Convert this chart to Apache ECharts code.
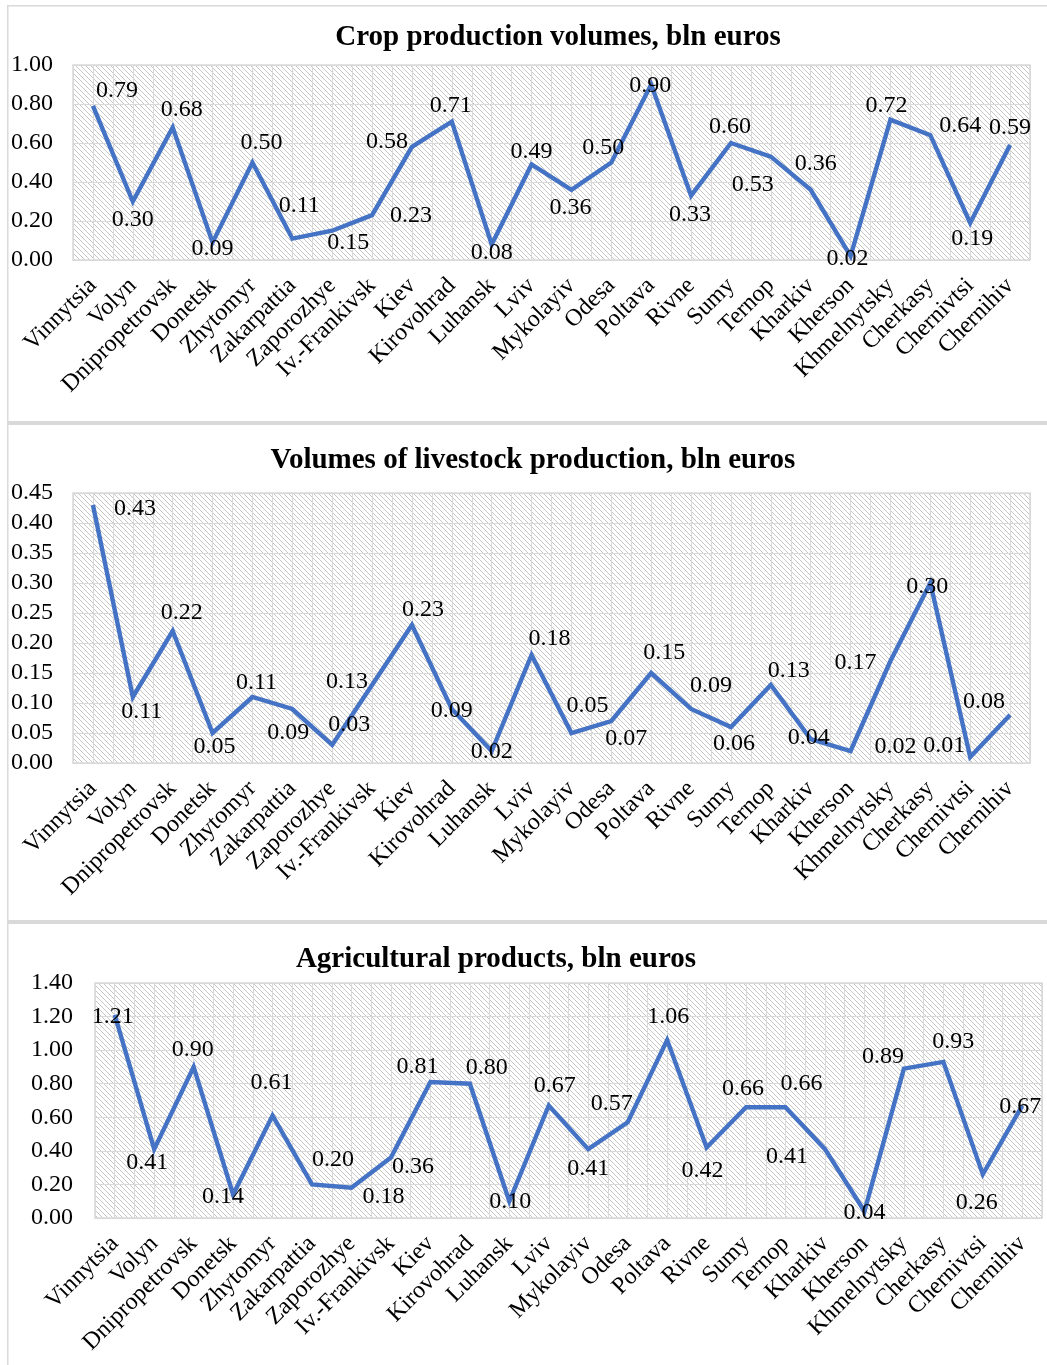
<!DOCTYPE html>
<html>
<head>
<meta charset="utf-8">
<title>Regional agricultural production, bln euros</title>
<script src="https://cdn.jsdelivr.net/npm/echarts@6/dist/echarts.min.js"></script>
<style>
  html, body { margin: 0; padding: 0; background: #ffffff; }
  #chart { width: 1047px; height: 1365px; }
</style>
</head>
<body>
<div id="chart"></div>
<script>
// Regions (oblasts) in the order they are plotted
const regions = [
  'Vinnytsia', 'Volyn', 'Dnipropetrovsk', 'Donetsk', 'Zhytomyr', 'Zakarpattia',
  'Zaporozhye', 'Iv.-Frankivsk', 'Kiev', 'Kirovohrad', 'Luhansk', 'Lviv',
  'Mykolayiv', 'Odesa', 'Poltava', 'Rivne', 'Sumy', 'Ternop', 'Kharkiv',
  'Kherson', 'Khmelnytsky', 'Cherkasy', 'Chernivtsi', 'Chernihiv'
];

// Crop production volumes, bln euros
const cropValues = [
  0.79, 0.30, 0.68, 0.09, 0.50, 0.11, 0.15, 0.23, 0.58, 0.71, 0.08, 0.49,
  0.36, 0.50, 0.90, 0.33, 0.60, 0.53, 0.36, 0.02, 0.72, 0.64, 0.19, 0.59
];

// Volumes of livestock production, bln euros
const livestockValues = [
  0.43, 0.11, 0.22, 0.05, 0.11, 0.09, 0.03, 0.13, 0.23, 0.09, 0.02, 0.18,
  0.05, 0.07, 0.15, 0.09, 0.06, 0.13, 0.04, 0.02, 0.17, 0.30, 0.01, 0.08
];

// Agricultural products, bln euros
const agriValues = [
  1.21, 0.41, 0.90, 0.14, 0.61, 0.20, 0.18, 0.36, 0.81, 0.80, 0.10, 0.67,
  0.41, 0.57, 1.06, 0.42, 0.66, 0.66, 0.41, 0.04, 0.89, 0.93, 0.26, 0.67
];

// Value-label placement: shift of each label's centre from its point, px
const cropLabelShift = [
  [24, -15], [0, 18], [9, -18], [0, 6], [9, -20], [7, -33], [16, 12], [39, 1],
  [-25, -5], [-1, -16], [0, 8], [0, -13], [-1, 18], [-8, -15], [-1, 1], [-1, 19],
  [-1, -16], [-18, 28], [5, -26], [-3, 3], [-4, -14], [30, -9], [2, 16], [0, -17]
];
const livestockLabelShift = [
  [42, 4], [9, 15], [9, -18], [2, 14], [4, -14], [-4, 24], [17, -20], [-25, -3],
  [11, -15], [0, 2], [0, 1], [18, -16], [16, -27], [15, 18], [13, -20], [20, -23],
  [3, 17], [18, -14], [-2, -1], [45, -4], [-35, 2], [-3, 4], [-26, -11], [-26, -13]
];
const agriLabelShift = [
  [-2, 2], [-7, 14], [-1, -17], [-10, 2], [-1, -33], [21, -25], [32, 9], [22, 9],
  [-13, -15], [17, -16], [1, 0], [6, -20], [0, 20], [-16, -19], [1, -23], [-4, 23],
  [-3, -19], [16, -24], [-38, 8], [0, 1], [-21, -12], [10, -20], [-6, 28], [-2, 1]
];

const FONT = "'Liberation Serif', 'Times New Roman', serif";
const LINE_COLOR = '#4472C4';
const GRID_COLOR = '#d9d9d9';

// Diagonal hatching used as the plot-area fill
function hatchPattern() {
  const s = 5;
  const c = document.createElement('canvas');
  c.width = s; c.height = s;
  const g = c.getContext('2d');
  g.fillStyle = '#ffffff';
  g.fillRect(0, 0, s, s);
  g.strokeStyle = '#c6c6c6';
  g.lineWidth = 1;
  g.beginPath();
  g.moveTo(-1, -1); g.lineTo(s + 1, s + 1);
  g.moveTo(-1, s - 1); g.lineTo(1, s + 1);
  g.moveTo(s - 1, -1); g.lineTo(s + 1, 1);
  g.stroke();
  return { image: c, repeat: 'repeat' };
}
const hatch = hatchPattern();

const panels = [
  { title: 'Crop production volumes, bln euros', titleX: 558, titleY: 38,
    grid: { left: 73, top: 65, width: 957, height: 195 },
    max: 1.0, interval: 0.2, values: cropValues, shift: cropLabelShift },
  { title: 'Volumes of livestock production, bln euros', titleX: 533, titleY: 461,
    grid: { left: 73, top: 493, width: 957, height: 270 },
    max: 0.45, interval: 0.05, values: livestockValues, shift: livestockLabelShift },
  { title: 'Agricultural products, bln euros', titleX: 496, titleY: 960,
    grid: { left: 95, top: 983, width: 947, height: 235 },
    max: 1.4, interval: 0.2, values: agriValues, shift: agriLabelShift }
];

const grids = [], xAxes = [], yAxes = [], series = [], titles = [];

panels.forEach((p, k) => {
  grids.push(Object.assign({
    show: true,
    backgroundColor: hatch,
    borderColor: GRID_COLOR,
    borderWidth: 1.5,
    containLabel: false
  }, p.grid));

  // category axis carrying the region names
  xAxes.push({
    type: 'category',
    gridIndex: k,
    data: regions,
    boundaryGap: true,
    axisLine: { show: false },
    axisTick: { show: false },
    splitLine: { show: false },
    axisLabel: {
      interval: 0,
      rotate: 45,
      margin: 22,
      color: '#000',
      fontFamily: FONT,
      fontSize: 24
    }
  });
  // auxiliary axis drawing a vertical gridline every half category
  xAxes.push({
    type: 'value',
    gridIndex: k,
    position: 'top',
    min: 0,
    max: regions.length * 2,
    interval: 1,
    axisLine: { show: false },
    axisTick: { show: false },
    axisLabel: { show: false },
    splitLine: { show: true, lineStyle: { color: GRID_COLOR, width: 1 } }
  });

  yAxes.push({
    type: 'value',
    gridIndex: k,
    min: 0,
    max: p.max,
    interval: p.interval,
    axisLine: { show: false },
    axisTick: { show: false },
    axisLabel: {
      margin: k === 2 ? 22 : 20,
      color: '#000',
      fontFamily: FONT,
      fontSize: 24,
      formatter: v => v.toFixed(2)
    },
    splitLine: { show: true, lineStyle: { color: GRID_COLOR, width: 1.2 } }
  });

  series.push({
    type: 'line',
    xAxisIndex: k * 2,
    yAxisIndex: k,
    data: p.values.map((v, i) => ({ value: v, label: { offset: p.shift[i] } })),
    symbol: 'circle',
    symbolSize: 0.1,
    showSymbol: true,
    itemStyle: { color: LINE_COLOR },
    lineStyle: { color: LINE_COLOR, width: 4.4, join: 'miter' },
    label: {
      show: true,
      position: 'inside',
      color: '#000',
      fontFamily: FONT,
      fontSize: 24,
      formatter: d => d.value.toFixed(2)
    },
    emphasis: { disabled: true },
    animation: false,
    z: 3
  });

  titles.push({
    type: 'text',
    x: p.titleX, y: p.titleY,
    style: {
      text: p.title,
      align: 'center',
      verticalAlign: 'middle',
      fill: '#000',
      font: "bold 29px 'Liberation Serif', 'Times New Roman', serif"
    },
    silent: true
  });
});

// panel frame: top rule, left rule and the grey bands between panels
const frame = [
  { type: 'rect', shape: { x: 7, y: 5, width: 1040, height: 1.5 } },
  { type: 'rect', shape: { x: 7, y: 5, width: 1.5, height: 1360 } },
  { type: 'rect', shape: { x: 7, y: 421, width: 1040, height: 4 } },
  { type: 'rect', shape: { x: 7, y: 920, width: 1040, height: 4 } }
].map(r => Object.assign(r, { style: { fill: GRID_COLOR }, silent: true }));

const chart = echarts.init(document.getElementById('chart'), null, { renderer: 'canvas' });
chart.setOption({
  backgroundColor: '#ffffff',
  animation: false,
  grid: grids,
  xAxis: xAxes,
  yAxis: yAxes,
  series: series,
  graphic: { elements: frame.concat(titles) }
});
</script>
</body>
</html>
